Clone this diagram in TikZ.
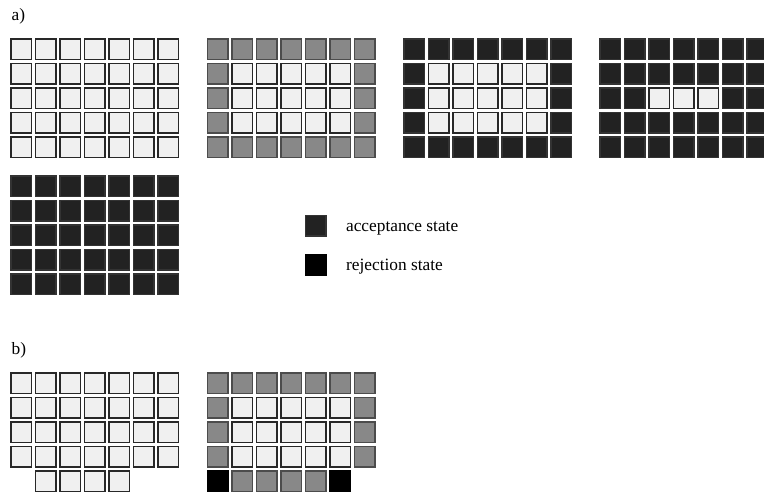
\documentclass[tikz,border=0pt]{standalone}
\usepackage{fontspec}
\setmainfont{Liberation Serif}
\usepackage{tikz}
\usetikzlibrary{positioning}
\definecolor{cellempty}{RGB}{240,240,240}
\definecolor{cellmid}{RGB}{136,136,136}
\definecolor{cellaccept}{RGB}{34,34,34}
\definecolor{cellreject}{RGB}{0,0,0}
\definecolor{celledge}{RGB}{40,40,40}

\begin{document}
\begin{tikzpicture}[x=0.75pt, y=-0.75pt, line width=0.9pt,
    empty/.style={fill=cellempty, draw=celledge},
    mid/.style={fill=cellmid, draw=black!70},
    accept/.style={fill=cellaccept, draw=black!80},
    reject/.style={fill=cellreject, draw=cellreject},
    lbl/.style={font=\fontsize{13}{15}\selectfont, inner sep=0pt}]
    \useasboundingbox (0,0) rectangle (764,494);

    \node[lbl, anchor=base west] (labelA) at (11,20) {a)};
    \node[lbl, anchor=base west] (labelB) at (11,354) {b)};

    % a) first grid: all empty
    \foreach \c in {0,...,6} \foreach \r in {0,...,4}
        \draw[empty] ({11+24.5*\c},{39+24.5*\r}) rectangle ++(20.5,20.5);

    % a) second grid: grey ring
    \foreach \c in {0,...,6} \foreach \r in {0,...,4}
        \draw[mid] ({207.5+24.5*\c},{39+24.5*\r}) rectangle ++(20.5,20.5);
    \foreach \c in {1,...,5} \foreach \r in {1,...,3}
        \draw[empty] ({207.5+24.5*\c},{39+24.5*\r}) rectangle ++(20.5,20.5);

    % a) third grid: accepted ring
    \foreach \c in {0,...,6} \foreach \r in {0,...,4}
        \draw[accept] ({404+24.5*\c},{39+24.5*\r}) rectangle ++(20.5,20.5);
    \foreach \c in {1,...,5} \foreach \r in {1,...,3}
        \draw[empty] ({404+24.5*\c},{39+24.5*\r}) rectangle ++(20.5,20.5);

    % a) fourth grid
    \foreach \c in {0,...,6} \foreach \r in {0,...,4}
        \draw[accept] ({600+24.5*\c},{39+24.5*\r}) rectangle ++(20.5,20.5);
    \foreach \c in {2,...,4}
        \draw[empty] ({600+24.5*\c},{39+24.5*2}) rectangle ++(20.5,20.5);

    % a) fifth grid: all accepted
    \foreach \c in {0,...,6} \foreach \r in {0,...,4}
        \draw[accept] ({11+24.5*\c},{176+24.5*\r}) rectangle ++(20.5,20.5);

    % legend
    \draw[accept] (305.5,215.5) rectangle ++(20.5,20.5);
    \draw[reject] (305.5,255) rectangle ++(20.5,20.5);
    \node[lbl, anchor=base west] (acceptText) at (345.5,231) {acceptance state};
    \node[lbl, anchor=base west] (rejectText) at (345.5,270) {rejection state};

    % b) first grid
    \foreach \c in {0,...,6} \foreach \r in {0,...,3}
        \draw[empty] ({11+24.5*\c},{373+24.5*\r}) rectangle ++(20.5,20.5);
    \foreach \c in {1,...,4}
        \draw[empty] ({11+24.5*\c},{373+24.5*4}) rectangle ++(20.5,20.5);

    % b) second grid
    \foreach \c in {0,...,6} \foreach \r in {0,...,3}
        \draw[mid] ({207.5+24.5*\c},{373+24.5*\r}) rectangle ++(20.5,20.5);
    \foreach \c in {1,...,5} \foreach \r in {1,...,3}
        \draw[empty] ({207.5+24.5*\c},{373+24.5*\r}) rectangle ++(20.5,20.5);
    \foreach \c in {1,...,4}
        \draw[mid] ({207.5+24.5*\c},{373+24.5*4}) rectangle ++(20.5,20.5);
    \foreach \c in {0,5}
        \draw[reject] ({207.5+24.5*\c},{373+24.5*4}) rectangle ++(20.5,20.5);
\end{tikzpicture}
\end{document}
